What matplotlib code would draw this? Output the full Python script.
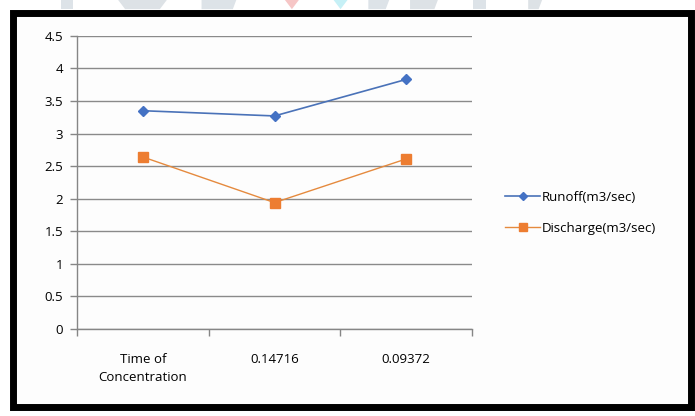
import numpy as np
import matplotlib.pyplot as plt
from matplotlib.patches import Rectangle, Polygon

plt.rcParams['font.family'] = ['Open Sans', 'DejaVu Sans']
plt.rcParams['font.size'] = 9.5

categories = ['Time of\nConcentration', '0.14716', '0.09372']
runoff = [3.35, 3.27, 3.83]
discharge = [2.64, 1.94, 2.61]
y_ticks = [0, 0.5, 1, 1.5, 2, 2.5, 3, 3.5, 4, 4.5]
y_labels = ['0', '0.5', '1', '1.5', '2', '2.5', '3', '3.5', '4', '4.5']

fig = plt.figure(figsize=(6.95, 4.16), dpi=100)
fig.patch.set_facecolor('white')

# faint shapes in the strip above the frame
for pts, col in [([(0.088, 1), (0.105, 1), (0.105, 0.978), (0.088, 0.978)], '#dde3e8'),
                 ([(0.17, 1), (0.24, 1), (0.23, 0.978), (0.18, 0.978)], '#dde2e6'),
                 ([(0.29, 1), (0.34, 1), (0.335, 0.978), (0.29, 0.978)], '#dde3e8'),
                 ([(0.41, 1), (0.43, 1), (0.42, 0.978)], '#f6c6c6'),
                 ([(0.48, 1), (0.50, 1), (0.49, 0.978)], '#c6f0f6'),
                 ([(0.53, 1), (0.56, 1), (0.555, 0.978), (0.53, 0.978)], '#dde3e8'),
                 ([(0.59, 1), (0.63, 1), (0.625, 0.978), (0.59, 0.978)], '#dde2e6'),
                 ([(0.68, 1), (0.70, 1), (0.70, 0.978), (0.68, 0.978)], '#dde3e8'),
                 ([(0.76, 1), (0.78, 1), (0.775, 0.978), (0.76, 0.978)], '#dde2e6')]:
    fig.patches.append(Polygon(pts, closed=True, transform=fig.transFigure,
                               facecolor=col, edgecolor='none', zorder=0))

# thick black frame round the chart
fig.patches.append(Rectangle((0.0194, 0.0228), 0.975, 0.946,
                             transform=fig.transFigure, facecolor='#fdfdfd',
                             edgecolor='black', linewidth=5.0, zorder=1))

ax = fig.add_axes([0.111, 0.209, 0.568, 0.705])
ax.set_zorder(3)
ax.set_facecolor('none')
x = np.arange(len(categories))

ax.plot(x, runoff, color='#4a72b8', linewidth=1.2, marker='D', markersize=5,
        markerfacecolor='#4472C4', markeredgecolor='#4472C4', label='Runoff(m3/sec)')
ax.plot(x, discharge, color='#e58a3e', linewidth=1.0, marker='s', markersize=7,
        markerfacecolor='#ED7D31', markeredgecolor='#ED7D31', label='Discharge(m3/sec)')

ax.set_xlim(-0.5, len(categories) - 0.5)
ax.set_ylim(0, 4.5)
ax.set_yticks(y_ticks)
ax.set_yticklabels(y_labels)
ax.set_xticks(x)
ax.set_xticklabels(categories, linespacing=1.5, va='top')
ax.set_xticks(np.arange(len(categories) + 1) - 0.5, minor=True)
ax.tick_params(axis='x', which='major', length=0, pad=17)
ax.tick_params(axis='x', which='minor', length=5, color='#868686', width=1)
ax.tick_params(axis='y', length=5, color='#868686', width=1, pad=5)
ax.yaxis.grid(True, color='#8a8a8a', linewidth=1.0)
ax.set_axisbelow(True)
for side in ['top', 'right']:
    ax.spines[side].set_visible(False)
for side in ['left', 'bottom']:
    ax.spines[side].set_color('#868686')
    ax.spines[side].set_linewidth(1.0)

ax.legend(loc='center left', bbox_to_anchor=(1.055, 0.397), frameon=False,
          handlelength=2.6, handletextpad=0.15, labelspacing=1.35,
          markerscale=0.8, fontsize=9.5)

fig.savefig('out.png', dpi=100)
